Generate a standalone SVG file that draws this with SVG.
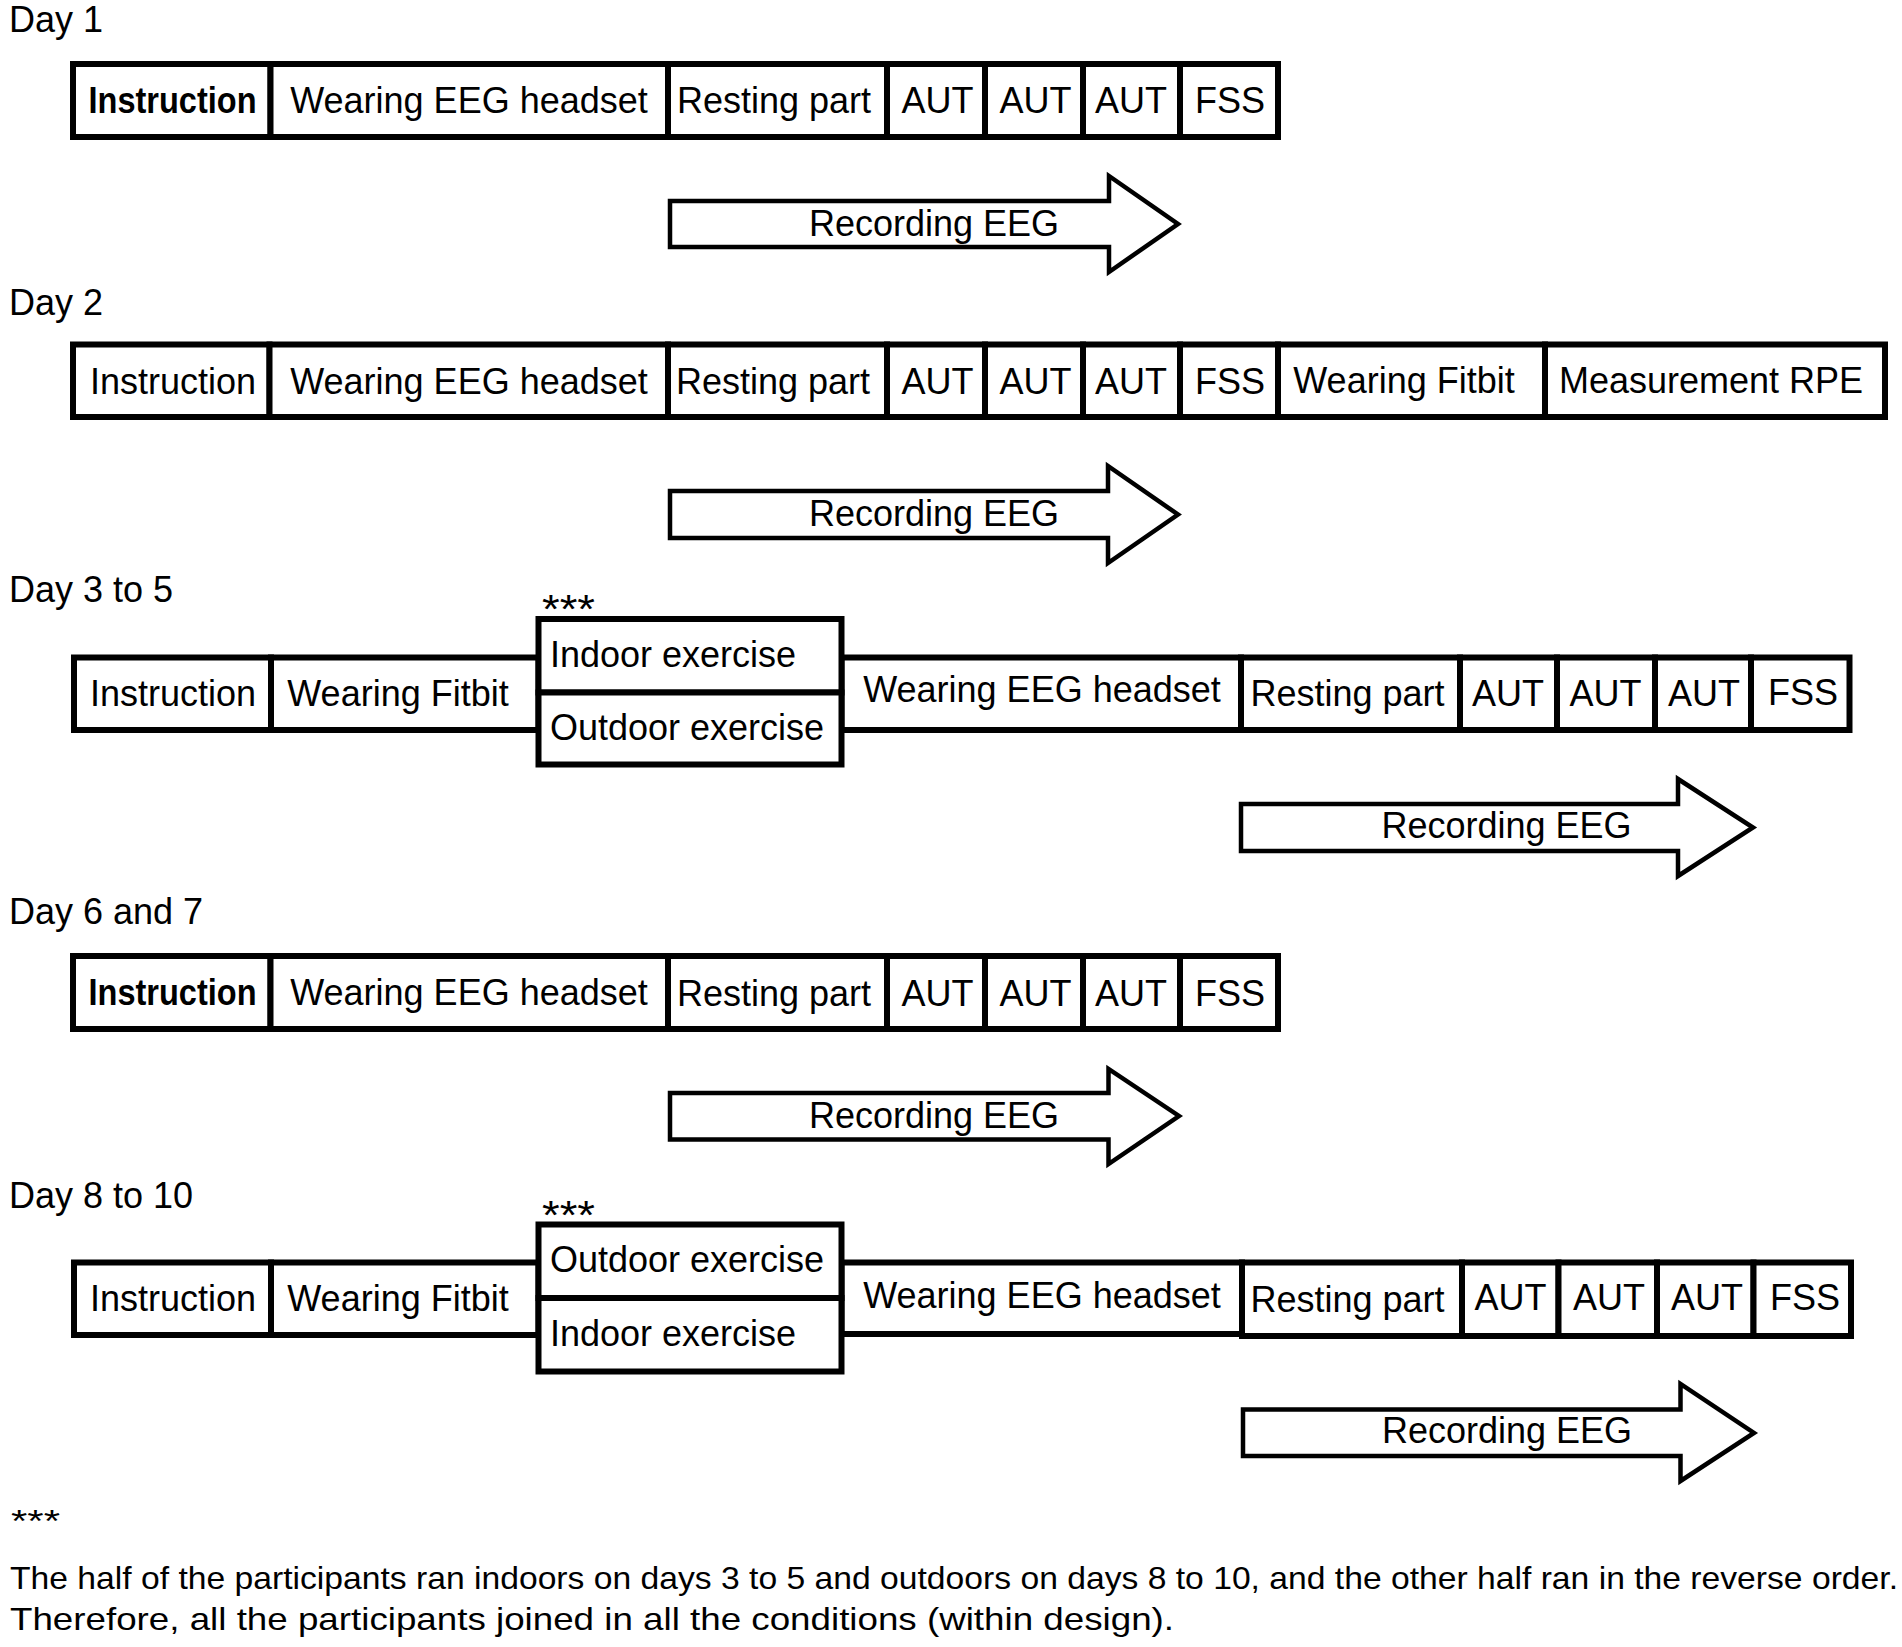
<svg xmlns="http://www.w3.org/2000/svg" width="1902" height="1647" viewBox="0 0 1902 1647">
<style>
  .cell{fill:#fff;stroke:#000;stroke-width:6}
  .arrow{fill:#fff;stroke:#000;stroke-width:4.5;stroke-linejoin:miter}
  .t{font-family:"Liberation Sans",Arial,sans-serif;font-size:36px;fill:#000;text-anchor:middle}
  .ts{font-family:"Liberation Sans",Arial,sans-serif;font-size:36px;fill:#000}
  .ast{font-family:"Liberation Sans",Arial,sans-serif;font-size:40px;fill:#000}
  .b{font-weight:bold}
  .day{font-family:"Liberation Sans",Arial,sans-serif;font-size:36px;fill:#000}
  .note{font-family:"Liberation Sans",Arial,sans-serif;font-size:32px;fill:#000}
</style>
<rect width="1902" height="1647" fill="#fff"/>

<!-- Day labels -->
<g id="labels">
  <text class="day" x="9" y="32">Day 1</text>
  <text class="day" x="9" y="315">Day 2</text>
  <text class="day" x="9" y="602">Day 3 to 5</text>
  <text class="day" x="9" y="924">Day 6 and 7</text>
  <text class="day" x="9" y="1208">Day 8 to 10</text>
  <text class="ast" x="542" y="623" textLength="53" lengthAdjust="spacingAndGlyphs">***</text>
  <text class="ast" x="542" y="1229" textLength="53" lengthAdjust="spacingAndGlyphs">***</text>
</g>

<!-- Row 1 -->
<g id="row1">
  <g id="r1-instruction"><rect class="cell" x="73" y="64" width="197.5" height="73"/><text class="t b" x="172.5" y="113" textLength="168" lengthAdjust="spacingAndGlyphs">Instruction</text></g>
  <g id="r1-eeg"><rect class="cell" x="270.5" y="64" width="397.5" height="73"/><text class="t" x="469" y="113">Wearing EEG headset</text></g>
  <g id="r1-rest"><rect class="cell" x="668" y="64" width="219" height="73"/><text class="t" x="774" y="113">Resting part</text></g>
  <g id="r1-aut1"><rect class="cell" x="887" y="64" width="98" height="73"/><text class="t" x="937.5" y="113">AUT</text></g>
  <g id="r1-aut2"><rect class="cell" x="985" y="64" width="98" height="73"/><text class="t" x="1035.5" y="113">AUT</text></g>
  <g id="r1-aut3"><rect class="cell" x="1083" y="64" width="97" height="73"/><text class="t" x="1131" y="113">AUT</text></g>
  <g id="r1-fss"><rect class="cell" x="1180" y="64" width="98" height="73"/><text class="t" x="1230" y="113">FSS</text></g>
</g>

<!-- Row 2 -->
<g id="row2">
  <g id="r2-instruction"><rect class="cell" x="73" y="344.5" width="196.5" height="72.5"/><text class="t" x="173" y="393.5">Instruction</text></g>
  <g id="r2-eeg"><rect class="cell" x="269.5" y="344.5" width="398.5" height="72.5"/><text class="t" x="469" y="393.5">Wearing EEG headset</text></g>
  <g id="r2-rest"><rect class="cell" x="668" y="344.5" width="219" height="72.5"/><text class="t" x="773" y="394">Resting part</text></g>
  <g id="r2-aut1"><rect class="cell" x="887" y="344.5" width="98" height="72.5"/><text class="t" x="937.5" y="394">AUT</text></g>
  <g id="r2-aut2"><rect class="cell" x="985" y="344.5" width="98" height="72.5"/><text class="t" x="1035.5" y="394">AUT</text></g>
  <g id="r2-aut3"><rect class="cell" x="1083" y="344.5" width="97" height="72.5"/><text class="t" x="1131" y="394">AUT</text></g>
  <g id="r2-fss"><rect class="cell" x="1180" y="344.5" width="98" height="72.5"/><text class="t" x="1230" y="394">FSS</text></g>
  <g id="r2-fitbit"><rect class="cell" x="1278" y="344.5" width="267" height="72.5"/><text class="t" x="1404" y="393">Wearing Fitbit</text></g>
  <g id="r2-rpe"><rect class="cell" x="1545" y="344.5" width="340" height="72.5"/><text class="t" x="1711" y="393">Measurement RPE</text></g>
</g>

<!-- Row 3 -->
<g id="row3">
  <g id="r3-instruction"><rect class="cell" x="74" y="657.5" width="197" height="72.5"/><text class="t" x="173" y="706">Instruction</text></g>
  <g id="r3-fitbit"><rect class="cell" x="271" y="657.5" width="267.5" height="72.5"/><text class="t" x="398" y="706">Wearing Fitbit</text></g>
  <g id="r3-eeg"><rect class="cell" x="841.5" y="657.5" width="399.5" height="72.5"/><text class="t" x="1042" y="702">Wearing EEG headset</text></g>
  <g id="r3-rest"><rect class="cell" x="1241" y="657.5" width="219" height="72.5"/><text class="t" x="1347.5" y="706">Resting part</text></g>
  <g id="r3-aut1"><rect class="cell" x="1460" y="657.5" width="97" height="72.5"/><text class="t" x="1508" y="706">AUT</text></g>
  <g id="r3-aut2"><rect class="cell" x="1557" y="657.5" width="98" height="72.5"/><text class="t" x="1605.5" y="706">AUT</text></g>
  <g id="r3-aut3"><rect class="cell" x="1655" y="657.5" width="96" height="72.5"/><text class="t" x="1704" y="706">AUT</text></g>
  <g id="r3-fss"><rect class="cell" x="1751" y="657.5" width="98.5" height="72.5"/><text class="t" x="1803" y="705">FSS</text></g>
  <g id="r3-indoor"><rect class="cell" x="538.5" y="619" width="303" height="73.5"/><text class="ts" x="550" y="667">Indoor exercise</text></g>
  <g id="r3-outdoor"><rect class="cell" x="538.5" y="692.5" width="303" height="72"/><text class="ts" x="550" y="740">Outdoor exercise</text></g>
</g>

<!-- Row 4 -->
<g id="row4">
  <g id="r4-instruction"><rect class="cell" x="73" y="956" width="197.5" height="73"/><text class="t b" x="172.5" y="1005" textLength="168" lengthAdjust="spacingAndGlyphs">Instruction</text></g>
  <g id="r4-eeg"><rect class="cell" x="270.5" y="956" width="397.5" height="73"/><text class="t" x="469" y="1005">Wearing EEG headset</text></g>
  <g id="r4-rest"><rect class="cell" x="668" y="956" width="219" height="73"/><text class="t" x="774" y="1006">Resting part</text></g>
  <g id="r4-aut1"><rect class="cell" x="887" y="956" width="98" height="73"/><text class="t" x="937.5" y="1006">AUT</text></g>
  <g id="r4-aut2"><rect class="cell" x="985" y="956" width="98" height="73"/><text class="t" x="1035.5" y="1006">AUT</text></g>
  <g id="r4-aut3"><rect class="cell" x="1083" y="956" width="97" height="73"/><text class="t" x="1131" y="1006">AUT</text></g>
  <g id="r4-fss"><rect class="cell" x="1180" y="956" width="98" height="73"/><text class="t" x="1230" y="1006">FSS</text></g>
</g>

<!-- Row 5 -->
<g id="row5">
  <g id="r5-instruction"><rect class="cell" x="74" y="1262.5" width="197" height="72.5"/><text class="t" x="173" y="1311">Instruction</text></g>
  <g id="r5-fitbit"><rect class="cell" x="271" y="1262.5" width="267.5" height="72.5"/><text class="t" x="398" y="1311">Wearing Fitbit</text></g>
  <g id="r5-eeg"><rect class="cell" x="841.5" y="1262.5" width="400.5" height="71.5"/><text class="t" x="1042" y="1308">Wearing EEG headset</text></g>
  <g id="r5-rest"><rect class="cell" x="1242" y="1262.5" width="220" height="73.5"/><text class="t" x="1347.5" y="1311.5">Resting part</text></g>
  <g id="r5-aut1"><rect class="cell" x="1462" y="1262.5" width="96.5" height="73.5"/><text class="t" x="1510.5" y="1310">AUT</text></g>
  <g id="r5-aut2"><rect class="cell" x="1558.5" y="1262.5" width="98.5" height="73.5"/><text class="t" x="1609" y="1310">AUT</text></g>
  <g id="r5-aut3"><rect class="cell" x="1657" y="1262.5" width="96.5" height="73.5"/><text class="t" x="1707" y="1310">AUT</text></g>
  <g id="r5-fss"><rect class="cell" x="1753.5" y="1262.5" width="97.5" height="73.5"/><text class="t" x="1805" y="1310">FSS</text></g>
  <g id="r5-outdoor"><rect class="cell" x="538.5" y="1224.5" width="303" height="73.5"/><text class="ts" x="550" y="1272">Outdoor exercise</text></g>
  <g id="r5-indoor"><rect class="cell" x="538.5" y="1298" width="303" height="73.5"/><text class="ts" x="550" y="1346">Indoor exercise</text></g>
</g>

<!-- Recording EEG arrows -->
<g id="connectors">
  <g id="arrow1"><path class="arrow" d="M670,201 H1109 V176 L1178,224 L1109,272 V247 H670 Z"/><text class="t" x="934" y="236">Recording EEG</text></g>
  <g id="arrow2"><path class="arrow" d="M670,491 H1108 V466 L1178,514.5 L1108,563 V538 H670 Z"/><text class="t" x="934" y="526">Recording EEG</text></g>
  <g id="arrow3"><path class="arrow" d="M1241,804 H1678 V779 L1753,827.5 L1678,876 V851 H1241 Z"/><text class="t" x="1506.5" y="838">Recording EEG</text></g>
  <g id="arrow4"><path class="arrow" d="M670,1093 H1108.5 V1069 L1179,1116 L1108.5,1164 V1139.5 H670 Z"/><text class="t" x="934" y="1128">Recording EEG</text></g>
  <g id="arrow5"><path class="arrow" d="M1243,1409.5 H1680.5 V1384 L1754,1433 L1680.5,1481 V1456 H1243 Z"/><text class="t" x="1507" y="1443">Recording EEG</text></g>
</g>

<!-- Footnote -->
<g id="footnote">
  <text class="note" x="11" y="1532" textLength="49" lengthAdjust="spacingAndGlyphs">***</text>
  <text class="note" x="10" y="1589" textLength="1888" lengthAdjust="spacingAndGlyphs">The half of the participants ran indoors on days 3 to 5 and outdoors on days 8 to 10, and the other half ran in the reverse order.</text>
  <text class="note" x="10" y="1630" textLength="1164" lengthAdjust="spacingAndGlyphs">Therefore, all the participants joined in all the conditions (within design).</text>
</g>
</svg>
